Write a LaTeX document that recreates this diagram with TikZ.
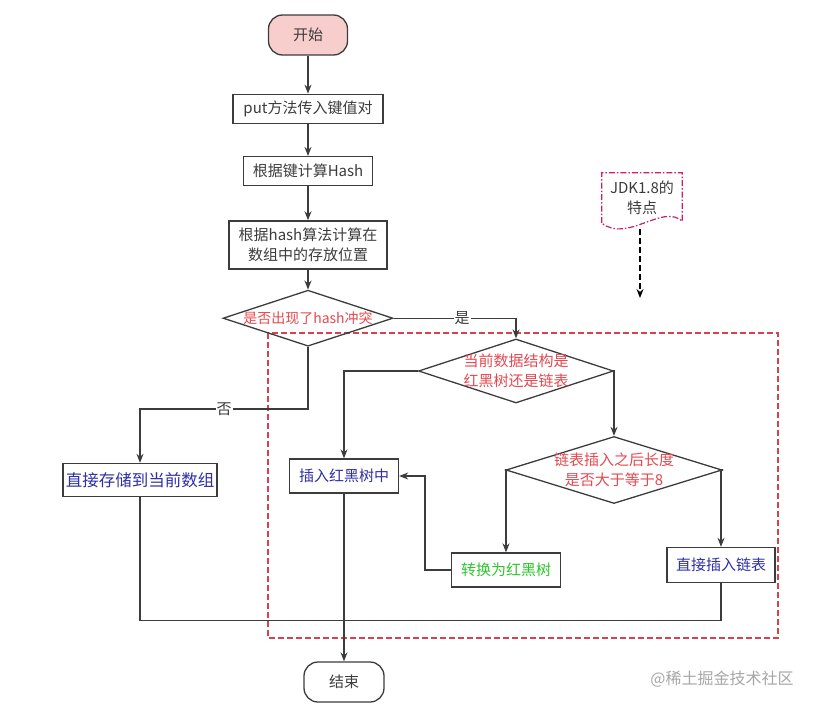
\documentclass[tikz,border=0pt]{standalone}
\usepackage{fontspec}
\setmainfont{Noto Sans CJK SC}
\usetikzlibrary{shapes,arrows.meta,positioning}

\definecolor{linegray}{HTML}{3C3C3C}
\definecolor{txtred}{HTML}{E5484F}
\definecolor{txtblue}{HTML}{2E2EA8}
\definecolor{txtgreen}{HTML}{2DC42D}
\definecolor{startpink}{HTML}{F8CECC}
\definecolor{zonered}{HTML}{D8424E}
\definecolor{notepink}{HTML}{CC1F6E}

\begin{document}
\begin{tikzpicture}[x=1pt, y=-1pt, font=\fontsize{15}{20}\selectfont,
  block/.style={rectangle, draw=linegray, line width=1.3pt, align=center, text=linegray, inner sep=2pt},
  term/.style={rectangle, rounded corners=14pt, draw=linegray, line width=1.3pt, text=linegray, inner sep=2pt},
  decision/.style={diamond, draw=linegray, line width=1.3pt, align=center, text=txtred, inner sep=-8pt, aspect=3},
  arrow/.style={-{Stealth[length=9pt,width=7pt]}, line width=1.3pt, draw=linegray},
  wire/.style={line width=1.3pt, draw=linegray},
  lbl/.style={fill=white, text=linegray, inner sep=1pt},
  zone/.style={draw=zonered, line width=1.3pt, dash pattern=on 6pt off 3pt},
  notebox/.style={draw=notepink, line width=1.2pt, dash pattern=on 6pt off 2pt on 1.5pt off 2pt},
  hint/.style={-{Stealth[length=9pt,width=7pt]}, line width=1.2pt, dash pattern=on 6pt off 3pt}]
\useasboundingbox (0,0) rectangle (819,704);

\draw[zone] (268,333) rectangle (778,638);

% main column
\node[term, fill=startpink, minimum width=79pt, minimum height=40pt] (start) at (308,35) {开始};
\node[block, below=38pt of start, minimum width=150pt, minimum height=29pt] (put) {put方法传入键值对};
\node[block, below=32pt of put, minimum width=129pt, minimum height=29pt] (hash) {根据键计算Hash};
\node[block, below=34pt of hash, minimum width=158pt, minimum height=48pt] (pos) {根据hash算法计算在\\数组中的存放位置};
\node[decision, below=20pt of pos, minimum width=170pt, minimum height=56pt, font=\fontsize{14}{16}\selectfont] (conflict) {是否出现了hash冲突};

% branches
\node[decision, minimum width=195pt, minimum height=64pt] (struct) at (516,371) {当前数据结构是\\红黑树还是链表};
\node[decision, minimum width=216pt, minimum height=67pt] (len) at (614,470) {链表插入之后长度\\是否大于等于8};
\node[block, text=txtblue, minimum width=154pt, minimum height=33pt, font=\fontsize{16.5}{20}\selectfont] (direct) at (140,480) {直接存储到当前数组};
\node[block, text=txtblue, minimum width=109pt, minimum height=34pt] (rbt) at (344,476) {插入红黑树中};
\node[block, text=txtgreen, minimum width=109pt, minimum height=34pt] (conv) at (506,570) {转换为红黑树};
\node[block, text=txtblue, minimum width=108pt, minimum height=35pt] (list) at (721,565) {直接插入链表};
\node[term, minimum width=80pt, minimum height=40pt] (finish) at (344,682) {结束};

% note
\node[text=linegray, align=center, minimum width=80pt, minimum height=50pt] (jdk) at (642,198) {JDK1.8的\\特点};
\draw[notebox] (jdk.south west) -- (jdk.north west) -- (jdk.north east) -- ([yshift=2pt]jdk.south east)
  .. controls ([xshift=-20pt,yshift=20pt]jdk.south east) and ([xshift=26pt,yshift=-20pt]jdk.south west) .. (jdk.south west);
\coordinate (jdkhint) at (640,298);
\draw[hint] ([shift={(-2pt,-6pt)}]jdk.south) -- (jdkhint);

\node[text=black!35, font=\fontsize{16}{16}\selectfont] (mark) at (722,679) {@稀土掘金技术社区};

% connectors
\draw[arrow] (start) -- (put);
\draw[arrow] (put) -- (hash);
\draw[arrow] (hash) -- (pos);
\draw[arrow] (pos) -- (conflict);
\draw[arrow] (conflict.east) -| node[lbl, pos=0.28] {是} (struct.north);
\draw[arrow] (conflict.south) -- ++(0,62) -| node[lbl, pos=0.25] {否} (direct.north);
\draw[arrow] (struct.west) -| (rbt.north);
\draw[arrow] (struct.east) -| (len.north);
\draw[arrow] (len.west) -| (conv.north);
\draw[arrow] (len.east) -| (list.north);
\draw[arrow] (conv.west) -- ++(-26,0) |- (rbt.east);
\draw[wire] (direct.south) -- ++(0,123) -| (list.south);
\draw[arrow] (rbt.south) -- (finish.north);
\end{tikzpicture}
\end{document}
